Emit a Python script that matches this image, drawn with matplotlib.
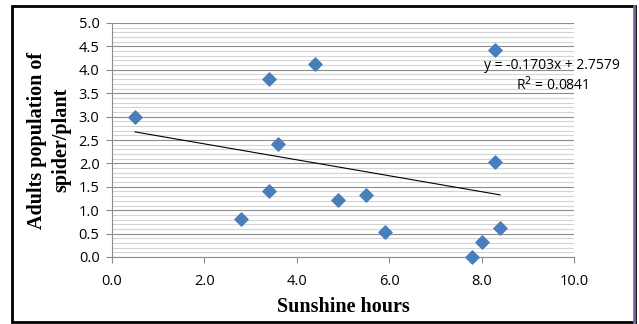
import matplotlib.pyplot as plt
from matplotlib.patches import Rectangle
from matplotlib.lines import Line2D
import numpy as np

# 데이터
sunshine = [0.5, 3.4, 4.4, 3.6, 3.4, 2.8, 4.9, 5.5, 5.9, 8.3, 8.3, 7.8, 8.0, 8.4]
adults = [3.0, 3.8, 4.12, 2.41, 1.41, 0.81, 1.22, 1.32, 0.53, 4.42, 2.03, 0.0, 0.32, 0.62]
slope, intercept = -0.1703, 2.7579
r2 = 0.0841

fig = plt.figure(figsize=(6.39, 3.24), dpi=100)
ax = fig.add_axes([112 / 639, 67 / 324, 462 / 639, 234 / 324])

# 격자
ax.set_xlim(0, 10)
ax.set_ylim(0, 5)
ax.set_yticks(np.arange(0, 5.01, 0.5))
ax.set_yticks(np.arange(0, 5.01, 0.1), minor=True)
ax.set_xticks(np.arange(0, 10.01, 2))
ax.grid(which='major', axis='y', color='#8c8c8c', linewidth=0.8)
ax.grid(which='minor', axis='y', color='#d4d4d4', linewidth=0.8)
ax.set_axisbelow(True)
ax.tick_params(which='minor', left=False)
ax.tick_params(which='major', color='#8c8c8c', length=4, labelsize=10.5)
ax.tick_params(axis='x', pad=8)
ax.tick_params(axis='y', pad=5)
for s in ['top', 'right']:
    ax.spines[s].set_visible(False)
for s in ['left', 'bottom']:
    ax.spines[s].set_color('#8c8c8c')
ax.xaxis.set_major_formatter(plt.FormatStrFormatter('%.1f'))
ax.yaxis.set_major_formatter(plt.FormatStrFormatter('%.1f'))
for lbl in ax.get_xticklabels() + ax.get_yticklabels():
    lbl.set_family('Open Sans')

# 산점도 + 추세선
ax.scatter(sunshine, adults, marker='D', s=45, color='#4a7ebb', zorder=3, clip_on=False)
xs = np.array([min(sunshine), max(sunshine)])
ax.plot(xs, slope * xs + intercept, color='black', linewidth=0.8)

ax.text(8.05, 4.09, f"y = {slope}x + {intercept}", fontsize=10, family='Open Sans',
        va='center', ha='left', clip_on=False)
ax.text(8.75, 3.69, f"R$^2$ = {r2}", fontsize=10, family='Open Sans',
        va='center', ha='left', clip_on=False)

ax.set_xlabel("Sunshine hours", family='Liberation Serif', fontweight='bold', fontsize=14.5, labelpad=6)
ax.set_ylabel("Adults population of\nspider/plant", family='Liberation Serif', fontweight='bold',
              fontsize=14.5, labelpad=5, linespacing=1.3)

# 테두리
fig.patches.append(Rectangle((12 / 639, 2 / 324), 623 / 639, 316 / 324, transform=fig.transFigure,
                             fill=False, edgecolor='black', linewidth=2))
fig.lines.append(Line2D([634 / 639, 634 / 639], [2 / 324, 318 / 324], transform=fig.transFigure,
                        color='#8064a2', linewidth=2))

fig.savefig("out.png", dpi=100)
